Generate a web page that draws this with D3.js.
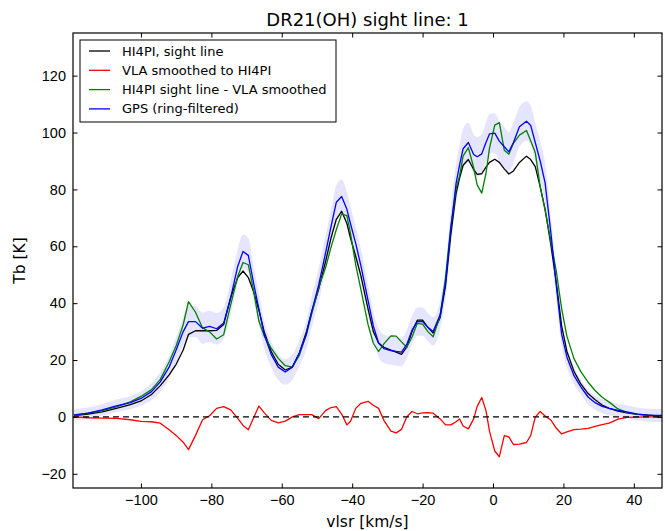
<!DOCTYPE html>
<html lang="en">
<head>
    <meta charset="UTF-8">
    <title>DR21(OH) sight line: 1</title>
    <script src="https://d3js.org/d3.v7.min.js"></script>
    <style>
        body {
            margin: 0;
            background: white;
            font-family: "DejaVu Sans", sans-serif;
        }
        .tick text {
            font-size: 14.5px;
            fill: black;
        }
        .axis-label {
            font-size: 15.5px;
        }
        .legend text {
            font-size: 13px;
        }
    </style>
</head>
<body>
    <svg></svg>

    <script>
        // velocity grid (km/s), shared by all series
        const vel = [-119, -115, -111, -107, -103, -100, -97, -94.5, -92, -90,
            -88, -86.5, -84.5, -82.5, -80.5, -78.5, -76.5, -74.5, -72.5, -71,
            -69.5, -68, -66.5, -65, -63, -61, -59, -57, -55, -53,
            -51.5, -49.5, -47.5, -46, -44.5, -43, -41.5, -40.5, -39, -37.5,
            -35.5, -34, -32.5, -31, -29, -27.5, -26, -24.5, -23, -21.5,
            -20, -18.5, -17, -15, -13.5, -12, -10.5, -9.5, -8.5, -7,
            -5.5, -4.5, -3.2, -2, -1, 0.5, 1.8, 3.2, 4.5, 5.8,
            7.5, 9.5, 10.7, 12, 13.4, 14.8, 16.5, 18, 19.5, 21,
            23, 25, 27, 29, 31, 33, 35.5, 38, 41, 44, 48];

        // HI4PI, sight line
        const hi4pi = [0.5, 1.0, 1.8, 3.0, 4.3, 5.6, 7.9, 11, 14.8, 18.5,
            23.5, 29, 30.3, 30.3, 30.3, 30.4, 32.5, 42, 49, 51.3,
            49, 44, 37.5, 30, 23, 18.5, 16.5, 17.5, 22.5, 30,
            37, 45, 55, 63, 69.5, 72.3, 68, 63, 56.5, 49.5,
            38, 30, 26, 24.5, 23.5, 22.8, 22, 24.5, 30, 34,
            34, 31.5, 29.5, 35, 46, 64, 78.5, 84, 88.5, 90.5,
            87, 85.3, 85.5, 87.8, 89.5, 90.6, 89.5, 87.2, 85.4, 86.5,
            89.5, 91.7, 90.5, 88, 81, 73, 60, 47, 32, 23,
            16, 11.5, 8.2, 6, 4.2, 3, 2, 1.4, 0.9, 0.6, 0.3];

        // VLA smoothed to HI4PI
        const vlaSmoothed = [0, -0.3, -0.4, -0.5, -1.0, -1.6, -1.7, -2.2, -4.5, -6.5,
            -8.9, -11.5, -6.5, -1, 0.4, 3, 3.6, 2.5, -0.5, -3,
            -4.5, -0.3, 3.8, 1.5, -1.2, -2.1, -1.5, 0, 0.8, 0.8,
            0.8, -0.6, 2.3, 3.3, 3.6, 1, -2.8, -1.6, 3, 4.8,
            5.5, 4.1, 3, -1.2, -5, -5.6, -4.4, 0, 1.9, 1.1,
            1.4, 1.5, 1.3, -0.7, -2.8, -2.8, -1.7, -0.7, -3.2, -4.2,
            -0.7, 3.7, 6.8, 2.2, -5, -12, -14, -6.6, -7, -9.7,
            -9.6, -9, -6.6, -0.1, 1.9, 0.3, -1.2, -4, -6, -5.3,
            -4.5, -4.3, -4, -3.3, -2.7, -2.2, -0.8, -0.2, -0.1, 0, 0];

        // HI4PI sight line - VLA smoothed
        const difference = [0.5, 1.3, 2.2, 3.5, 5.3, 7.2, 9.6, 13.2, 19.3, 25,
            32.4, 40.5, 36.8, 31.3, 29.9, 27.4, 28.9, 39.5, 49.5, 54.3,
            53.5, 44.3, 33.7, 28.5, 24.2, 20.6, 18, 17.5, 21.7, 29.2,
            36.2, 45.6, 52.7, 59.7, 65.9, 71.3, 70.8, 64.6, 53.5, 44.7,
            32.5, 25.9, 23, 25.7, 28.5, 28.4, 26.4, 24.5, 28.1, 32.9,
            32.6, 30, 28.2, 35.7, 48.8, 66.8, 80.2, 84.7, 91.7, 94.7,
            87.7, 81.6, 78.7, 85.6, 94.5, 102.6, 103.5, 93.8, 92.4, 96.2,
            99.1, 100.7, 97.1, 93, 81, 72.7, 61.2, 51, 38, 28.3,
            20.5, 15.8, 12.2, 9.3, 6.9, 5.2, 2.8, 1.6, 1.0, 0.6, 0.3];

        // GPS (ring-filtered) and its uncertainty
        const gps = [0.7, 1.3, 2.5, 3.9, 5, 6.5, 8.9, 12.3, 17.5, 23.5,
            30, 33.5, 33.5, 31.2, 31.8, 31, 33, 42, 53, 58.2,
            56.8, 47, 38, 29, 22, 17.5, 15.8, 17.5, 22.5, 29,
            37, 46.5, 58, 67, 75.5, 77.5, 73, 68, 61, 53,
            41, 32, 26, 24, 23.3, 23, 22.8, 25.5, 30.5, 33.5,
            33.5, 31.5, 30, 36, 47, 66, 82, 88.5, 94.3, 96.5,
            92.3, 91.5, 92.5, 96.5, 99.5, 99.8, 97, 95, 93.2, 96.5,
            102, 104, 102.5, 96.5, 90, 82.3, 64, 46, 29, 21,
            14.5, 10.5, 7, 5, 3.7, 3, 2.3, 1.8, 1, 0.6, 0.5];

        const gpsErr = [2, 2, 2, 2.2, 2.3, 2.5, 3, 3.5, 4, 4.5,
            5, 5.5, 5.5, 5.5, 5.5, 5.5, 5.5, 6, 6, 6,
            6, 6, 5.5, 5, 4.5, 4.5, 4.5, 4.5, 4.5, 5,
            5.5, 6, 6, 6, 6, 6, 6, 6, 6, 6,
            5.5, 5, 5, 5, 5, 5, 5, 5, 5, 5,
            5, 5, 5, 5, 5.5, 7, 7, 7, 7, 7,
            7, 7, 7, 7, 7, 7, 7, 7, 7, 7,
            7, 7, 7, 7, 7, 7, 6, 5, 4, 3.5,
            3, 2.5, 2.5, 2.5, 2.5, 2.5, 2.3, 2.3, 2.3, 2.3, 2.3];

        const xTicks = [-100, -80, -60, -40, -20, 0, 20, 40];
        const yTicks = [-20, 0, 20, 40, 60, 80, 100, 120];

        const legendItems = [
            { label: "HI4PI, sight line", color: "black" },
            { label: "VLA smoothed to HI4PI", color: "red" },
            { label: "HI4PI sight line - VLA smoothed", color: "green" },
            { label: "GPS (ring-filtered)", color: "blue" }
        ];

        const W = 665, H = 531;
        const margin = { top: 33, right: 3, bottom: 43, left: 73 };
        const width = W - margin.left - margin.right;
        const height = H - margin.top - margin.bottom;

        const root = d3.select("svg")
            .attr("width", W)
            .attr("height", H);

        const svg = root.append("g")
            .attr("transform", `translate(${margin.left},${margin.top})`);

        const xScale = d3.scaleLinear().domain([-119.3, 48.0]).range([0, width]);
        const yScale = d3.scaleLinear().domain([-25, 135]).range([height, 0]);

        svg.append("defs").append("clipPath").attr("id", "clip")
            .append("rect").attr("width", width).attr("height", height);

        const plot = svg.append("g").attr("clip-path", "url(#clip)");

        // uncertainty band of GPS
        const band = d3.area()
            .x((d, i) => xScale(vel[i]))
            .y0((d, i) => yScale(gps[i] - gpsErr[i]))
            .y1((d, i) => yScale(gps[i] + gpsErr[i]))
            .curve(d3.curveMonotoneX);

        plot.append("path")
            .attr("d", band(vel))
            .attr("fill", "blue")
            .attr("fill-opacity", 0.1);

        const line = values => d3.line()
            .x((d, i) => xScale(vel[i]))
            .y((d, i) => yScale(values[i]))(vel);

        const series = [
            { values: hi4pi, color: "black" },
            { values: vlaSmoothed, color: "red" },
            { values: difference, color: "green" },
            { values: gps, color: "blue" }
        ];

        series.forEach(s => {
            plot.append("path")
                .attr("d", line(s.values))
                .attr("fill", "none")
                .attr("stroke", s.color)
                .attr("stroke-width", 1.3)
                .attr("stroke-linejoin", "round");
        });

        // zero line
        plot.append("line")
            .attr("x1", 0).attr("x2", width)
            .attr("y1", yScale(0)).attr("y2", yScale(0))
            .attr("stroke", "black")
            .attr("stroke-width", 1.3)
            .attr("stroke-dasharray", "6,4");

        // axes, ticks pointing inward on all sides
        const fmt = d3.format("d");
        svg.append("g")
            .attr("transform", `translate(0,${height})`)
            .call(d3.axisBottom(xScale).tickValues(xTicks).tickFormat(fmt)
                .tickSizeInner(-4.5).tickSizeOuter(0).tickPadding(7));
        svg.append("g")
            .call(d3.axisTop(xScale).tickValues(xTicks).tickFormat("")
                .tickSizeInner(-4.5).tickSizeOuter(0));
        svg.append("g")
            .call(d3.axisLeft(yScale).tickValues(yTicks).tickFormat(fmt)
                .tickSizeInner(-4.5).tickSizeOuter(0).tickPadding(7));
        svg.append("g")
            .attr("transform", `translate(${width},0)`)
            .call(d3.axisRight(yScale).tickValues(yTicks).tickFormat("")
                .tickSizeInner(-4.5).tickSizeOuter(0));

        svg.selectAll(".domain").remove();
        svg.selectAll(".tick line").attr("stroke", "black").attr("stroke-width", 1);

        svg.append("rect")
            .attr("width", width)
            .attr("height", height)
            .attr("fill", "none")
            .attr("stroke", "black")
            .attr("stroke-width", 1.2);

        // title and axis labels
        root.append("text")
            .attr("x", margin.left + width / 2)
            .attr("y", 26)
            .attr("text-anchor", "middle")
            .style("font-size", "18px")
            .text("DR21(OH) sight line: 1");

        root.append("text")
            .attr("class", "axis-label")
            .attr("x", margin.left + width / 2)
            .attr("y", 527)
            .attr("text-anchor", "middle")
            .text("vlsr [km/s]");

        root.append("text")
            .attr("class", "axis-label")
            .attr("transform", `translate(25,${margin.top + height / 2}) rotate(-90)`)
            .attr("text-anchor", "middle")
            .text("Tb [K]");

        // legend
        const legend = svg.append("g")
            .attr("class", "legend")
            .attr("transform", "translate(7,7)");

        legend.append("rect")
            .attr("width", 256)
            .attr("height", 82)
            .attr("fill", "white")
            .attr("stroke", "black")
            .attr("stroke-width", 1);

        legendItems.forEach((d, i) => {
            const y = 11 + i * 19.3;
            legend.append("line")
                .attr("x1", 9).attr("x2", 30)
                .attr("y1", y).attr("y2", y)
                .attr("stroke", d.color)
                .attr("stroke-width", 1.3);
            legend.append("text")
                .attr("x", 42)
                .attr("y", y)
                .attr("dy", "0.35em")
                .text(d.label);
        });
    </script>
</body>
</html>
